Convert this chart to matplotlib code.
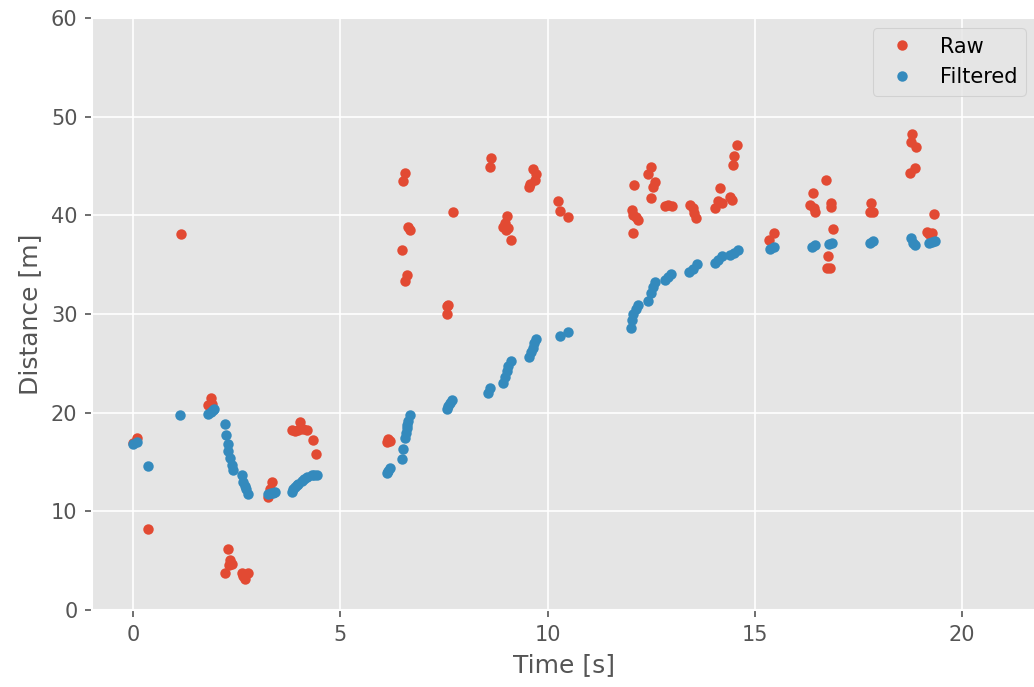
import matplotlib
matplotlib.use('Agg')
import matplotlib.pyplot as plt

plt.style.use('ggplot')

# raw range readings (time [s], distance [m])
raw_t = [0.0, 0.09, 0.37, 1.15, 1.82, 1.87, 1.9,
         2.22, 2.3, 2.32, 2.34, 2.38, 2.62, 2.66, 2.7, 2.78,
         3.26, 3.3, 3.35,
         3.83, 3.9, 3.97, 4.03, 4.1, 4.2, 4.33, 4.41,
         6.12, 6.16, 6.2,
         6.48, 6.52, 6.56, 6.56, 6.6, 6.64, 6.68,
         7.57, 7.6, 7.58, 7.71,
         8.6, 8.63, 8.93, 8.97, 9.0, 9.01, 9.04, 9.11,
         9.54, 9.58, 9.64, 9.7, 9.72,
         10.26, 10.3, 10.49,
         12.03, 12.05, 12.07, 12.09, 12.12, 12.19,
         12.41, 12.49, 12.49, 12.54, 12.59,
         12.83, 12.9, 12.99,
         13.44, 13.5, 13.52, 13.58,
         14.04, 14.12, 14.16, 14.2, 14.4, 14.44, 14.47, 14.5, 14.56,
         15.35, 15.46,
         16.33, 16.4, 16.43, 16.45, 16.72, 16.73, 16.77, 16.81, 16.83, 16.83, 16.88,
         17.78, 17.79, 17.86,
         18.73, 18.76, 18.8, 18.87, 18.88,
         19.14, 19.2, 19.26, 19.32]
raw_d = [16.9, 17.4, 8.2, 38.1, 20.8, 21.45, 20.9,
         3.7, 6.15, 4.6, 5.07, 4.66, 3.8, 3.4, 3.1, 3.8,
         11.5, 12.3, 13.0,
         18.24, 18.1, 18.2, 19.1, 18.3, 18.2, 17.2, 15.8,
         17.0, 17.3, 17.1,
         36.5, 43.5, 44.3, 33.3, 34.0, 38.8, 38.5,
         30.8, 30.9, 30.0, 40.3,
         44.9, 45.8, 38.8, 39.2, 38.5, 39.9, 38.7, 37.5,
         42.9, 43.2, 44.65, 43.6, 44.2,
         41.5, 40.4, 39.8,
         40.5, 38.2, 40.0, 43.1, 39.8, 39.5,
         44.2, 44.85, 41.8, 42.9, 43.4,
         40.9, 41.0, 40.95,
         41.0, 40.7, 40.2, 39.7,
         40.7, 41.5, 42.8, 41.2, 41.9, 41.6, 45.1, 46.0, 47.1,
         37.5, 38.2,
         41.0, 42.3, 40.7, 40.3, 43.6, 34.7, 35.9, 34.7, 41.3, 40.8, 38.6,
         40.35, 41.2, 40.35,
         44.3, 47.45, 48.2, 44.8, 46.9,
         38.3, 38.1, 38.2, 40.1]

# output of the filter
filt_t = [0.0, 0.1, 0.37, 1.13, 1.82, 1.87, 1.92, 1.95,
          2.22, 2.24, 2.28, 2.3, 2.34, 2.38, 2.4,
          2.62, 2.66, 2.7, 2.73, 2.78,
          3.26, 3.32, 3.38, 3.42,
          3.83, 3.87, 3.9, 3.95, 3.99, 4.07, 4.13, 4.19, 4.31, 4.37, 4.43,
          6.12, 6.16, 6.2, 6.48, 6.52, 6.56, 6.58, 6.6, 6.62, 6.64, 6.68,
          7.57, 7.6, 7.64, 7.69,
          8.57, 8.61,
          8.93, 8.97, 9.01, 9.05, 9.11,
          9.56, 9.6, 9.64, 9.68, 9.72,
          10.29, 10.48,
          12.01, 12.03, 12.07, 12.12, 12.19,
          12.43, 12.49, 12.54, 12.59,
          12.83, 12.9, 12.97,
          13.42, 13.5, 13.6,
          14.04, 14.12, 14.2,
          14.4, 14.5, 14.58,
          15.37, 15.45,
          16.37, 16.45, 16.78, 16.85,
          17.78, 17.86,
          18.76, 18.82, 18.86,
          19.2, 19.28, 19.35]
filt_d = [16.8, 17.05, 14.6, 19.8, 19.9, 20.1, 20.3, 20.4,
          18.9, 17.7, 16.8, 16.1, 15.4, 14.7, 14.2,
          13.7, 13.0, 12.6, 12.3, 11.8,
          11.8, 11.9, 11.9, 12.0,
          12.0, 12.3, 12.5, 12.7, 12.8, 13.1, 13.3, 13.45, 13.65, 13.7, 13.7,
          13.9, 14.1, 14.4, 15.3, 16.3, 17.4, 17.9, 18.4, 18.8, 19.2, 19.8,
          20.4, 20.7, 21.0, 21.3,
          22.0, 22.5,
          23.0, 23.6, 24.2, 24.7, 25.2,
          25.6, 26.1, 26.6, 27.1, 27.5,
          27.8, 28.2,
          28.6, 29.4, 30.0, 30.5, 30.9,
          31.3, 32.1, 32.7, 33.2,
          33.4, 33.8, 34.1,
          34.3, 34.6, 35.1,
          35.2, 35.5, 35.9,
          36.0, 36.2, 36.5,
          36.6, 36.75,
          36.8, 37.0, 37.1, 37.15,
          37.2, 37.35,
          37.7, 37.2, 37.0,
          37.2, 37.3, 37.35]

fig = plt.figure(figsize=(1034 / 150, 687 / 150), dpi=150)
ax = fig.add_axes([92 / 1034, 77 / 687, 944 / 1034, 592 / 687])

ax.plot(raw_t, raw_d, 'o', markersize=4, label='Raw')
ax.plot(filt_t, filt_d, 'o', markersize=4, label='Filtered')

ax.set_xlim(-0.99, 21.78)
ax.set_ylim(0, 60)
ax.set_xlabel('Time [s]')
ax.set_ylabel('Distance [m]')
ax.legend(loc='upper right', numpoints=1)

fig.savefig('out.png', dpi=150)
